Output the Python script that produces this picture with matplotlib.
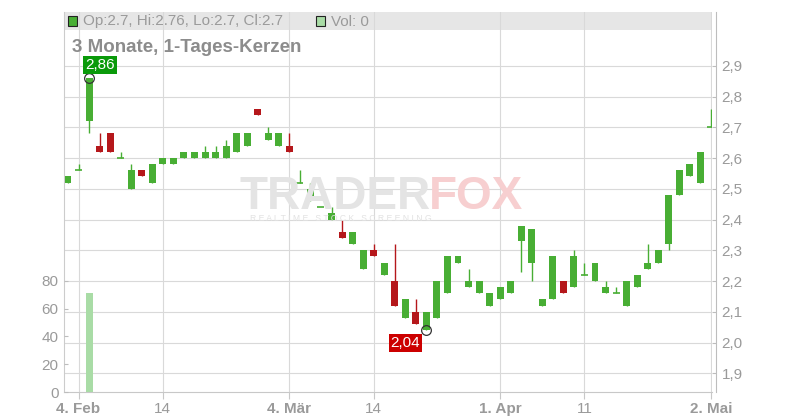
import matplotlib
matplotlib.use("Agg")
import matplotlib.pyplot as plt
from matplotlib.patches import Rectangle

plt.rcParams['font.family'] = ['Liberation Sans', 'DejaVu Sans']

# trading days, 1 Feb - 2 May 2019
dates = [
    "2019-02-01", "2019-02-04", "2019-02-05", "2019-02-06", "2019-02-07", "2019-02-08",
    "2019-02-11", "2019-02-12", "2019-02-13", "2019-02-14", "2019-02-15",
    "2019-02-18", "2019-02-19", "2019-02-20", "2019-02-21", "2019-02-22",
    "2019-02-25", "2019-02-26", "2019-02-27", "2019-02-28", "2019-03-01",
    "2019-03-04", "2019-03-05", "2019-03-06", "2019-03-07", "2019-03-08",
    "2019-03-11", "2019-03-12", "2019-03-13", "2019-03-14", "2019-03-15",
    "2019-03-18", "2019-03-19", "2019-03-20", "2019-03-21", "2019-03-22",
    "2019-03-25", "2019-03-26", "2019-03-27", "2019-03-28", "2019-03-29",
    "2019-04-01", "2019-04-02", "2019-04-03", "2019-04-04", "2019-04-05",
    "2019-04-08", "2019-04-09", "2019-04-10", "2019-04-11", "2019-04-12",
    "2019-04-15", "2019-04-16", "2019-04-17", "2019-04-18",
    "2019-04-23", "2019-04-24", "2019-04-25", "2019-04-26",
    "2019-04-29", "2019-04-30", "2019-05-02",
]
opens = [2.52, 2.56, 2.72, 2.64, 2.68, 2.60, 2.50, 2.56, 2.52, 2.58, 2.58,
         2.60, 2.60, 2.60, 2.60, 2.60, 2.62, 2.64, 2.76, 2.66, 2.64,
         2.64, 2.52, 2.46, 2.44, 2.40, 2.36, 2.32, 2.24, 2.30, 2.22,
         2.20, 2.08, 2.10, 2.04, 2.08, 2.16, 2.26, 2.18, 2.16, 2.12,
         2.14, 2.16, 2.33, 2.26, 2.12, 2.14, 2.20, 2.18, 2.22, 2.20,
         2.16, 2.16, 2.12, 2.18, 2.24, 2.26, 2.32, 2.48, 2.54, 2.52, 2.70]
highs = [2.54, 2.58, 2.86, 2.68, 2.68, 2.62, 2.58, 2.56, 2.58, 2.60, 2.60,
         2.62, 2.62, 2.64, 2.64, 2.66, 2.68, 2.68, 2.76, 2.70, 2.68,
         2.68, 2.56, 2.52, 2.44, 2.44, 2.40, 2.36, 2.30, 2.32, 2.26,
         2.32, 2.14, 2.14, 2.10, 2.20, 2.28, 2.28, 2.24, 2.20, 2.16,
         2.18, 2.20, 2.38, 2.37, 2.14, 2.28, 2.20, 2.30, 2.26, 2.26,
         2.20, 2.18, 2.20, 2.22, 2.32, 2.30, 2.48, 2.56, 2.58, 2.62, 2.76]
lows = [2.52, 2.56, 2.68, 2.62, 2.62, 2.60, 2.50, 2.54, 2.52, 2.58, 2.58,
        2.60, 2.60, 2.60, 2.60, 2.60, 2.62, 2.64, 2.74, 2.66, 2.64,
        2.62, 2.52, 2.46, 2.44, 2.40, 2.34, 2.32, 2.24, 2.28, 2.22,
        2.12, 2.08, 2.06, 2.04, 2.08, 2.16, 2.26, 2.18, 2.16, 2.12,
        2.14, 2.16, 2.23, 2.20, 2.12, 2.14, 2.16, 2.18, 2.22, 2.20,
        2.16, 2.16, 2.12, 2.18, 2.24, 2.26, 2.30, 2.48, 2.54, 2.52, 2.70]
closes = [2.54, 2.56, 2.86, 2.62, 2.62, 2.60, 2.56, 2.54, 2.58, 2.60, 2.60,
          2.62, 2.62, 2.62, 2.62, 2.64, 2.68, 2.68, 2.74, 2.68, 2.68,
          2.62, 2.52, 2.50, 2.44, 2.42, 2.34, 2.36, 2.30, 2.28, 2.26,
          2.12, 2.14, 2.06, 2.10, 2.20, 2.28, 2.28, 2.20, 2.20, 2.16,
          2.18, 2.20, 2.38, 2.37, 2.14, 2.28, 2.16, 2.28, 2.22, 2.26,
          2.18, 2.16, 2.20, 2.22, 2.26, 2.30, 2.48, 2.56, 2.58, 2.62, 2.70]
volumes = [0, 0, 71] + [0] * 59

tick_dates = ["2019-02-04", "2019-02-14", "2019-03-04", "2019-03-14",
              "2019-04-01", "2019-04-11", "2019-05-02"]
tick_labels = ["4. Feb", "14", "4. Mär", "14", "1. Apr", "11", "2. Mai"]
price_ticks = [1.9, 2.0, 2.1, 2.2, 2.3, 2.4, 2.5, 2.6, 2.7, 2.8, 2.9]
vol_ticks = [0, 20, 40, 60, 80]

GREEN = '#48ae34'
RED = '#b5171b'
GRID = '#d9d9d9'
TXT = '#9a9a9a'

fig = plt.figure(figsize=(8, 4.2), dpi=100)
ax = fig.add_axes([64 / 800, 28 / 420, 648 / 800, 380 / 420])
axv = ax.twinx()
ax.set_xlim(-0.38, 61.1)
ax.set_ylim(1.839, 3.075)

x = list(range(len(dates)))
w = 0.66
for i in x:
    o, h, l, c = opens[i], highs[i], lows[i], closes[i]
    col = GREEN if c >= o else RED
    ax.vlines(i, l, h, color=col, lw=1.0, zorder=3)
    if abs(c - o) < 1e-9:
        ax.hlines(o, i - w / 2, i + w / 2, color=col, lw=1.2, zorder=3)
    else:
        ax.bar(i, abs(c - o), bottom=min(o, c), width=w, color=col, zorder=4)

# header band
ax.add_patch(Rectangle((0, 362 / 380), 1, 18 / 380, transform=ax.transAxes,
                       fc='#e6e6e6', ec='none', zorder=0.1))
ax.set_axisbelow(True)
ax.grid(True, color=GRID, lw=0.8)

ax.set_xticks([dates.index(d) for d in tick_dates])
ax.set_xticklabels(tick_labels)
for lab in ax.get_xticklabels():
    if '.' in lab.get_text():
        lab.set_fontweight('bold')
ax.tick_params(axis='x', direction='out', length=5, color='#c8c8c8',
               labelcolor=TXT, labelsize=11, pad=2)

ax.yaxis.tick_right()
ax.set_yticks(price_ticks)
ax.set_yticklabels([f"{v:.1f}".replace('.', ',') for v in price_ticks])
ax.tick_params(axis='y', direction='in', length=3, color='#bdbdbd',
               labelcolor=TXT, labelsize=11, pad=4)

ax.spines['top'].set_visible(False)
ax.spines['left'].set_color('#cccccc')
ax.spines['bottom'].set_color('#c8c8c8')
ax.spines['right'].set_color('#bdbdbd')
ax.spines['right'].set_position(('outward', 2.9))

# volume axis
axv.set_ylim(0, 273.4)
axv.bar(x, volumes, width=w, color='#a9dca6', zorder=2)
axv.yaxis.tick_left()
axv.set_yticks(vol_ticks)
axv.tick_params(axis='y', direction='in', length=3, color='#bdbdbd',
                labelcolor=TXT, labelsize=11, pad=4)
for s in axv.spines.values():
    s.set_visible(False)

# high / low markers
ih = highs.index(max(highs))
il = lows.index(min(lows))
ax.plot(ih, highs[ih], 'o', ms=7, mfc='none', mec='#333333', mew=0.9, zorder=6)
ax.plot(il, lows[il], 'o', ms=7, mfc='none', mec='#333333', mew=0.9, zorder=6)
ax.annotate(f"{highs[ih]:.2f}".replace('.', ','), (ih, highs[ih]),
            xytext=(11, 13), textcoords='offset pixels', ha='center', va='center',
            color='white', fontsize=11, zorder=7,
            bbox=dict(boxstyle='square,pad=0.12', fc='#0a9a0a', ec='none'))
ax.annotate(f"{lows[il]:.2f}".replace('.', ','), (il, lows[il]),
            xytext=(-21, -13), textcoords='offset pixels', ha='center', va='center',
            color='white', fontsize=11, zorder=7,
            bbox=dict(boxstyle='square,pad=0.12', fc='#cc0000', ec='none'))

# watermark
fig.text(240 / 800, 1 - 197 / 420, "TRADER", fontsize=33, weight='bold',
         color='#e4e4e4', va='center', ha='left', zorder=0)
fig.text(429 / 800, 1 - 197 / 420, "FOX", fontsize=33, weight='bold',
         color='#f7cfd0', va='center', ha='left', zorder=0)
fig.text(250 / 800, 1 - 218 / 420, " ".join("REALTIME STOCK SCREENING"),
         fontsize=6.2, color='#e2e2e2', va='center', ha='left', zorder=0)

# header
y_h = 1 - 21.5 / 420
fig.add_artist(Rectangle((68 / 800, 1 - 26 / 420), 9 / 800, 10 / 420,
                         transform=fig.transFigure, fc=GREEN, ec='#222222', lw=0.8))
fig.text(83 / 800, y_h, "Op:2.7, Hi:2.76, Lo:2.7, Cl:2.7", fontsize=11,
         color=TXT, va='center')
fig.add_artist(Rectangle((316 / 800, 1 - 26 / 420), 9 / 800, 10 / 420,
                         transform=fig.transFigure, fc='#a9dca6', ec='#222222', lw=0.8))
fig.text(331 / 800, y_h, "Vol: 0", fontsize=11, color=TXT, va='center')
fig.text(72 / 800, 1 - 47 / 420, "3 Monate, 1-Tages-Kerzen", fontsize=13.5,
         weight='bold', color='#8c8c8c', va='center')

fig.savefig("out.png", dpi=100)
